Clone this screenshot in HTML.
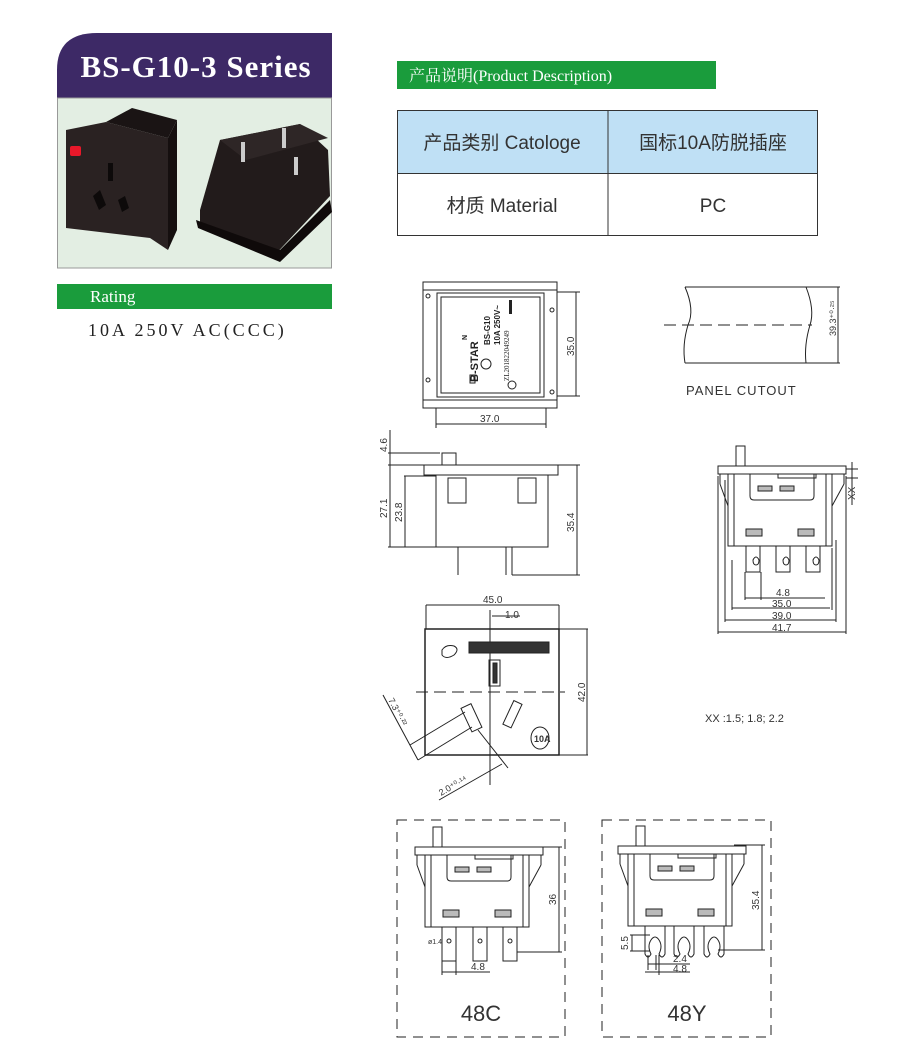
<!DOCTYPE html>
<html><head><meta charset="utf-8"><style>
html,body{margin:0;padding:0;background:#fff;}
svg{display:block;}
</style></head><body>
<svg width="900" height="1050" viewBox="0 0 900 1050" xmlns="http://www.w3.org/2000/svg" font-family="Liberation Sans, sans-serif">
<defs>
<g id="ev" fill="none" stroke="#222" stroke-width="1">
  <rect x="18" y="-20" width="9" height="20" fill="#fff"/>
  <rect x="0" y="0" width="128" height="8" fill="#fff"/>
  <rect x="10" y="8" width="104" height="72" fill="#fff"/>
  <line x1="2" y1="8" x2="2" y2="18"/><line x1="2" y1="18" x2="10" y2="40"/>
  <line x1="126" y1="8" x2="126" y2="18"/><line x1="126" y1="18" x2="114" y2="40"/>
  <line x1="16" y1="8" x2="16" y2="80"/><line x1="108" y1="8" x2="108" y2="80"/>
  <path d="M32 8 V30 Q32 34 36 34 H92 Q96 34 96 30 V8"/>
  <rect x="60" y="8" width="38" height="4"/>
  <rect x="40" y="20" width="14" height="5" fill="#bbb"/><rect x="62" y="20" width="14" height="5" fill="#bbb"/>
  <rect x="28" y="63" width="16" height="7" fill="#bbb"/><rect x="80" y="63" width="16" height="7" fill="#bbb"/>
</g>
</defs>

<!-- Header -->
<path d="M57 98 V70 Q57 33 97 33 H332 V98 Z" fill="#3d2966"/>
<text x="196" y="77" fill="#fff" font-family="Liberation Serif, serif" font-weight="bold" font-size="31" letter-spacing="1" text-anchor="middle">BS-G10-3 Series</text>
<rect x="57.5" y="98" width="274" height="170" fill="#e3eee3" stroke="#999"/>
<!-- product photos -->
<polygon points="66,130 106,122 168,138 168,250 150,238 66,228" fill="#2a2222"/>
<polygon points="106,122 132,108 177,120 168,138" fill="#1a1414"/>
<polygon points="168,138 177,120 177,230 168,250" fill="#150f0f"/>
<rect x="70" y="146" width="11" height="10" fill="#e8182a" rx="2"/>
<rect x="108" y="163" width="5" height="18" fill="#0d0a0a"/>
<polygon points="93,196 100,190 106,205 99,210" fill="#0d0a0a"/>
<polygon points="118,200 125,196 129,208 122,212" fill="#0d0a0a"/>
<polygon points="200,210 220,140 300,124 328,150 330,196 272,258 200,222" fill="#221b1b"/>
<polygon points="220,140 300,124 328,138 246,160" fill="#2e2626"/>
<polygon points="196,220 280,250 330,200 332,212 280,262 198,228" fill="#0f0a0a"/>
<rect x="241" y="142" width="4" height="20" fill="#ccc"/><rect x="282" y="128" width="4" height="20" fill="#ccc"/><rect x="294" y="157" width="4" height="18" fill="#ccc"/>

<rect x="57" y="284" width="275" height="25" fill="#1a9c3c"/>
<text x="90" y="302" fill="#fff" font-family="Liberation Serif, serif" font-size="17">Rating</text>
<text x="88" y="336" fill="#222" font-family="Liberation Serif, serif" font-size="18" letter-spacing="3">10A 250V AC(CCC)</text>

<!-- Right header -->
<rect x="397" y="61" width="319" height="28" fill="#1a9c3c"/>
<text x="409" y="81" fill="#fff" font-family="Liberation Serif, Noto Serif CJK SC, serif" font-size="16">产品说明(Product Description)</text>
<rect x="397.5" y="110.5" width="420" height="63" fill="#bfe0f5" stroke="#333"/>
<rect x="397.5" y="173.5" width="420" height="62" fill="#fff" stroke="#333"/>
<line x1="608" y1="110" x2="608" y2="236" stroke="#333"/>
<g font-family="Liberation Sans, Noto Sans CJK SC, sans-serif" font-size="19" fill="#333" text-anchor="middle">
<text x="502" y="149">产品类别 Catologe</text>
<text x="713" y="149">国标10A防脱插座</text>
<text x="502" y="212">材质 Material</text>
<text x="713" y="212">PC</text>
</g>

<g fill="none" stroke="#222" stroke-width="1">
<!-- top view -->
<rect x="423" y="282" width="134" height="126"/>
<rect x="437" y="293" width="107" height="104"/>
<rect x="441" y="297" width="99" height="96"/>
<line x1="423" y1="290" x2="557" y2="290"/><line x1="423" y1="400" x2="557" y2="400"/>
<circle cx="428" cy="296" r="2"/><circle cx="428" cy="380" r="2"/><circle cx="552" cy="310" r="2"/><circle cx="552" cy="392" r="2"/>
<circle cx="512" cy="385" r="4"/>
<line x1="436" y1="408" x2="436" y2="428"/><line x1="546" y1="408" x2="546" y2="428"/>
<line x1="436" y1="424" x2="546" y2="424"/>
<line x1="557" y1="292" x2="580" y2="292"/><line x1="557" y1="396" x2="580" y2="396"/>
<line x1="576" y1="292" x2="576" y2="396"/>
<!-- panel cutout -->
<line x1="685" y1="287" x2="806" y2="287"/><line x1="685" y1="363" x2="806" y2="363"/>
<path d="M685 287 Q695 310 688 325 Q682 345 685 363"/>
<path d="M806 287 Q815 310 810 325 Q804 345 806 363"/>
<line x1="664" y1="325" x2="812" y2="325" stroke-dasharray="12,6"/>
<line x1="806" y1="287" x2="840" y2="287"/><line x1="806" y1="363" x2="840" y2="363"/>
<line x1="838" y1="287" x2="838" y2="363"/>
<!-- side view -->
<rect x="442" y="453" width="14" height="12"/>
<rect x="424" y="465" width="134" height="10"/>
<rect x="436" y="475" width="112" height="72"/>
<rect x="448" y="478" width="18" height="25"/><rect x="518" y="478" width="18" height="25"/>
<line x1="458" y1="547" x2="458" y2="575"/><line x1="506" y1="547" x2="506" y2="575"/><line x1="512" y1="547" x2="512" y2="575"/>
<line x1="388" y1="453" x2="440" y2="453"/><line x1="388" y1="465" x2="424" y2="465"/>
<line x1="388" y1="547" x2="436" y2="547"/><line x1="404" y1="476" x2="436" y2="476"/>
<line x1="390" y1="430" x2="390" y2="547"/><line x1="405" y1="476" x2="405" y2="547"/>
<line x1="558" y1="465" x2="580" y2="465"/><line x1="512" y1="575" x2="580" y2="575"/>
<line x1="577" y1="465" x2="577" y2="575"/>
<!-- end view right -->
<use href="#ev" x="718" y="466"/>
<path d="M746 546 h14 v26 h-14z M776 546 h14 v26 h-14z M806 546 h14 v26 h-14z"/>
<path d="M753 560 q3 -6 6 0 q0 5 -3 5 q-3 0 -3 -5z M783 560 q3 -6 6 0 q0 5 -3 5 q-3 0 -3 -5z M813 560 q3 -6 6 0 q0 5 -3 5 q-3 0 -3 -5z"/>
<line x1="745" y1="572" x2="745" y2="600"/><line x1="761" y1="572" x2="761" y2="600"/>
<line x1="745" y1="598" x2="825" y2="598"/>
<line x1="732" y1="560" x2="732" y2="610"/><line x1="732" y1="608" x2="830" y2="608"/>
<line x1="725" y1="480" x2="725" y2="622"/><line x1="725" y1="620" x2="836" y2="620"/>
<line x1="718" y1="476" x2="718" y2="634"/><line x1="718" y1="632" x2="846" y2="632"/>
<line x1="832" y1="548" x2="832" y2="610"/><line x1="836" y1="540" x2="836" y2="622"/><line x1="846" y1="476" x2="846" y2="634"/>
<line x1="846" y1="469" x2="858" y2="469"/><line x1="846" y1="478" x2="858" y2="478"/>
<line x1="852" y1="462" x2="852" y2="505"/>
<!-- front view -->
<line x1="426" y1="605" x2="559" y2="605"/>
<line x1="426" y1="605" x2="426" y2="629"/><line x1="559" y1="605" x2="559" y2="629"/>
<line x1="492" y1="616" x2="520" y2="616"/><line x1="490" y1="610" x2="490" y2="785"/>
<rect x="425" y="629" width="134" height="126" stroke-width="1.5"/>
<line x1="416" y1="692" x2="565" y2="692" stroke-dasharray="12,6"/>
<path d="M442 650 q4 -6 12 -4 q6 3 0 9 q-8 5 -12 0 z"/>
<rect x="469" y="642" width="80" height="11" fill="#333"/>
<rect x="489" y="660" width="11" height="26"/>
<rect x="493" y="663" width="4" height="20" fill="#333"/>
<rect x="466" y="705" width="11" height="26" transform="rotate(-25 471 718)"/>
<rect x="508" y="701" width="9" height="26" transform="rotate(25 512 714)"/>
<ellipse cx="540" cy="738" rx="9" ry="11"/>
<line x1="559" y1="629" x2="588" y2="629"/><line x1="559" y1="755" x2="588" y2="755"/>
<line x1="587" y1="629" x2="587" y2="755"/>
<line x1="383" y1="695" x2="418" y2="760"/>
<line x1="410" y1="745" x2="465" y2="712"/><line x1="418" y1="760" x2="472" y2="727"/>
<line x1="439" y1="800" x2="502" y2="764"/>
<line x1="478" y1="730" x2="508" y2="768"/>
<!-- dashed boxes -->
<rect x="397" y="820" width="168" height="217" stroke-dasharray="10,7"/>
<rect x="602" y="820" width="169" height="217" stroke-dasharray="10,7"/>
<use href="#ev" x="415" y="847"/>
<use href="#ev" x="618" y="846"/>
<!-- 48C terminals -->
<path d="M442 927 v34 h14 v-34 M473 927 v34 h14 v-34 M503 927 v34 h14 v-34"/>
<circle cx="449" cy="941" r="2"/><circle cx="480" cy="941" r="2"/><circle cx="510" cy="941" r="2"/>
<line x1="442" y1="961" x2="442" y2="975"/><line x1="456" y1="961" x2="456" y2="975"/><line x1="442" y1="972" x2="490" y2="972"/>
<line x1="530" y1="847" x2="562" y2="847"/><line x1="517" y1="952" x2="562" y2="952"/><line x1="559" y1="847" x2="559" y2="952"/>
<!-- 48Y terminals -->
<path d="M645 926 v28 q3 6 6 0 q-4 -8 0 -14 q4 -6 8 0 q4 6 0 14 q3 6 6 0 v-28"/>
<path d="M674 926 v28 q3 6 6 0 q-4 -8 0 -14 q4 -6 8 0 q4 6 0 14 q3 6 6 0 v-28"/>
<path d="M704 926 v28 q3 6 6 0 q-4 -8 0 -14 q4 -6 8 0 q4 6 0 14 q3 6 6 0 v-28"/>
<line x1="630" y1="935" x2="650" y2="935"/><line x1="630" y1="951" x2="650" y2="951"/><line x1="632" y1="935" x2="632" y2="951"/>
<line x1="648" y1="955" x2="648" y2="970"/><line x1="656" y1="955" x2="656" y2="970"/><line x1="648" y1="964" x2="690" y2="964"/>
<line x1="645" y1="972" x2="690" y2="972"/><line x1="659" y1="955" x2="659" y2="975"/>
<line x1="734" y1="845" x2="765" y2="845"/><line x1="718" y1="950" x2="765" y2="950"/><line x1="762" y1="845" x2="762" y2="950"/>
</g>

<!-- top view inner text -->
<g fill="#222" font-weight="bold">
<text transform="translate(478 382) rotate(-90)" font-size="11">B-STAR</text>
<text transform="translate(490 345) rotate(-90)" font-size="8">BS-G10</text>
<text transform="translate(500 345) rotate(-90)" font-size="8">10A 250V~</text>
<text transform="translate(467 340) rotate(-90)" font-size="7">N</text>
<text transform="translate(509 381) rotate(-90)" font-size="7" font-weight="normal" font-family="Liberation Serif, serif">ZL201822049249</text>
</g>
<rect x="470" y="375" width="5" height="8" fill="none" stroke="#222"/>
<circle cx="486" cy="364" r="5" fill="none" stroke="#222"/>
<rect x="509" y="300" width="3" height="14" fill="#222"/>

<g fill="#333" font-size="10">
<text x="480" y="422">37.0</text>
<text transform="translate(574 356) rotate(-90)">35.0</text>
<text transform="translate(836 336) rotate(-90)" font-size="9">39.3⁺⁰·²⁵</text>
<text transform="translate(387 452) rotate(-90)">4.6</text>
<text transform="translate(387 518) rotate(-90)">27.1</text>
<text transform="translate(402 522) rotate(-90)">23.8</text>
<text transform="translate(574 532) rotate(-90)">35.4</text>
<text transform="translate(855 500) rotate(-90)">XX</text>
<text x="776" y="596">4.8</text>
<text x="772" y="607">35.0</text>
<text x="772" y="619">39.0</text>
<text x="772" y="631">41.7</text>
<text x="483" y="603">45.0</text>
<text x="505" y="618">1.0</text>
<text transform="translate(585 702) rotate(-90)">42.0</text>
<text transform="translate(388 700) rotate(62)" font-size="9">7.3⁺⁰·²²</text>
<text transform="translate(441 796) rotate(-30)" font-size="9">2.0⁺⁰·¹⁴</text>
<text transform="translate(556 905) rotate(-90)">36</text>
<text transform="translate(759 910) rotate(-90)">35.4</text>
<text x="471" y="970">4.8</text>
<text x="673" y="962">2.4</text>
<text x="673" y="972">4.8</text>
<text transform="translate(628 950) rotate(-90)">5.5</text>
<text x="428" y="944" font-size="7">ø1.4</text>
<text x="534" y="742" font-size="9" font-weight="bold">10A</text>
</g>
<text x="686" y="395" fill="#333" font-size="13" letter-spacing="1">PANEL  CUTOUT</text>
<text x="705" y="722" fill="#333" font-size="11">XX  :1.5;  1.8;  2.2</text>
<text x="481" y="1021" fill="#333" font-size="22" text-anchor="middle">48C</text>
<text x="687" y="1021" fill="#333" font-size="22" text-anchor="middle">48Y</text>
</svg>
</body></html>
